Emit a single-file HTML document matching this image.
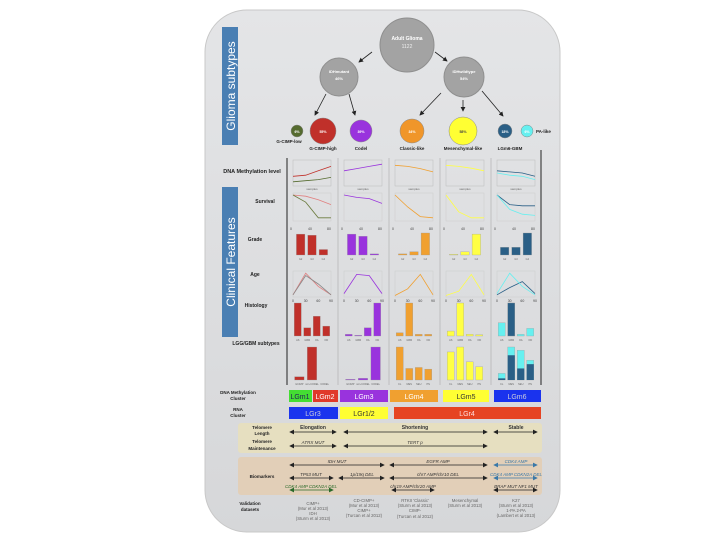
<!DOCTYPE html>
<html><head><meta charset="utf-8"><style>
html,body{margin:0;padding:0;background:#fff;}
svg{display:block;font-family:"Liberation Sans",sans-serif;}
</style></head><body>
<svg id="fig" width="720" height="540" viewBox="0 0 720 540">
<defs>
<linearGradient id="pg" x1="0" y1="0" x2="0" y2="1"><stop offset="0" stop-color="#e4e5e7"/><stop offset="1" stop-color="#d6d7d9"/></linearGradient>
<marker id="ah" markerWidth="6" markerHeight="6" refX="5" refY="3" orient="auto"><path d="M0,0 L6,3 L0,6 z" fill="#222"/></marker>
<marker id="ahs" markerWidth="6" markerHeight="6" refX="5" refY="3" orient="auto-start-reverse"><path d="M0,0 L6,3 L0,6 z" fill="#222"/></marker>
<marker id="ahb" markerWidth="6" markerHeight="6" refX="5" refY="3" orient="auto-start-reverse"><path d="M0,0 L6,3 L0,6 z" fill="#3a78a8"/></marker>
<marker id="ahg" markerWidth="6" markerHeight="6" refX="5" refY="3" orient="auto-start-reverse"><path d="M0,0 L6,3 L0,6 z" fill="#2a6a2a"/></marker>
</defs>
<rect x="205" y="10" width="355" height="522" rx="42" fill="url(#pg)" stroke="#c8c8c8"/>

<rect x="222" y="27" width="16" height="118" fill="#4a7fb3"/>
<text x="0" y="0" transform="translate(235,86) rotate(-90)" text-anchor="middle" font-size="12" fill="#fff">Glioma subtypes</text>
<rect x="222" y="187" width="16" height="150" fill="#4a7fb3"/>
<text transform="translate(235,262) rotate(-90)" text-anchor="middle" font-size="12" fill="#fff">Clinical  Features</text>

<rect x="238" y="423" width="304" height="30" rx="3" fill="#e6dfc0"/>
<rect x="238" y="457" width="304" height="38" rx="3" fill="#e2cfb8"/>

<g id="tree">
<circle cx="407" cy="45" r="27" fill="#a3a3a3" stroke="#8f8f8f"/>
<text x="407" y="40" text-anchor="middle" font-size="5" font-weight="bold" fill="#fff">Adult Glioma</text>
<text x="407" y="48" text-anchor="middle" font-size="5" fill="#eee">1122</text>
<circle cx="339" cy="77" r="19" fill="#a3a3a3" stroke="#8f8f8f"/>
<text x="339" y="73" text-anchor="middle" font-size="4" font-weight="bold" fill="#fff">IDHmutant</text>
<text x="339" y="80" text-anchor="middle" font-size="4" font-weight="bold" fill="#fff">46%</text>
<circle cx="464" cy="77" r="20" fill="#a3a3a3" stroke="#8f8f8f"/>
<text x="464" y="73" text-anchor="middle" font-size="4" font-weight="bold" fill="#fff">IDHwildtype</text>
<text x="464" y="80" text-anchor="middle" font-size="4" font-weight="bold" fill="#fff">54%</text>
<g stroke="#222" stroke-width="0.8" marker-end="url(#ah)">
<line x1="372" y1="52" x2="359" y2="62"/><line x1="435" y1="52" x2="447" y2="61"/>
<line x1="326" y1="94" x2="315" y2="115"/><line x1="349" y1="94" x2="355" y2="115"/>
<line x1="441" y1="93" x2="420" y2="115"/><line x1="463" y1="100" x2="463" y2="111"/><line x1="482" y1="91" x2="503" y2="116"/>
</g>
</g>
<g id="leaves"></g>

<g id="rows" font-weight="bold" fill="#222" text-anchor="middle">
<text x="252" y="173" font-size="5.5">DNA Methylation level</text>
<text x="265" y="203" font-size="5">Survival</text>
<text x="255" y="241" font-size="5">Grade</text>
<text x="255" y="276" font-size="5">Age</text>
<text x="256" y="307" font-size="5">Histology</text>
<text x="256" y="345" font-size="5">LGG/GBM subtypes</text>
<text x="238" y="394" font-size="4.5">DNA  Methylation</text><text x="238" y="400" font-size="4.5">Cluster</text>
<text x="238" y="411" font-size="4.5">RNA</text><text x="238" y="417" font-size="4.5">Cluster</text>
<text x="262" y="429" font-size="4.5">Telomere</text><text x="262" y="435" font-size="4.5">Length</text>
<text x="262" y="443" font-size="4.5">Telomere</text><text x="262" y="450" font-size="4.5">Maintenance</text>
<text x="262" y="478" font-size="4.5">Biomarkers</text>
<text x="250" y="505" font-size="4.5">Validation</text><text x="250" y="511" font-size="4.5">datasets</text>
</g>

<g id="cols"></g>

<g font-size="7" text-anchor="middle">
<rect x="289" y="390" width="23" height="12" fill="#44dd33"/><text x="300" y="399" fill="#225">LGm1</text>
<rect x="313" y="390" width="25" height="12" fill="#e03a2a"/><text x="325" y="399" fill="#fff">LGm2</text>
<rect x="340" y="390" width="48" height="12" fill="#9933dd"/><text x="364" y="399" fill="#fff">LGm3</text>
<rect x="390" y="390" width="48" height="12" fill="#f0a030"/><text x="414" y="399" fill="#fff">LGm4</text>
<rect x="443" y="390" width="46" height="12" fill="#ffff33"/><text x="466" y="399" fill="#333">LGm5</text>
<rect x="494" y="390" width="47" height="12" fill="#1a33ee"/><text x="517" y="399" fill="#ccd">LGm6</text>
<rect x="289" y="407" width="49" height="12" fill="#1a33ee"/><text x="313" y="416" fill="#ccd">LGr3</text>
<rect x="340" y="407" width="48" height="12" fill="#ffff33"/><text x="364" y="416" fill="#333">LGr1/2</text>
<rect x="394" y="407" width="147" height="12" fill="#e64422"/><text x="467" y="416" fill="#fdd">LGr4</text>
</g>

<g stroke="#222" stroke-width="0.8" marker-start="url(#ahs)" marker-end="url(#ahs)">
<line x1="290" y1="432" x2="336" y2="432"/><line x1="344" y1="432" x2="487" y2="432"/><line x1="494" y1="432" x2="537" y2="432"/>
<line x1="290" y1="446" x2="336" y2="446"/><line x1="344" y1="446" x2="487" y2="446"/>
<line x1="290" y1="465" x2="384" y2="465"/><line x1="390" y1="465" x2="487" y2="465"/>
<line x1="290" y1="478" x2="333" y2="478"/><line x1="339" y1="478" x2="384" y2="478"/><line x1="390" y1="478" x2="487" y2="478"/>
<line x1="392" y1="490" x2="434" y2="490"/><line x1="494" y1="490" x2="537" y2="490"/>
<line x1="494" y1="465" x2="537" y2="465" stroke="#3a78a8" marker-start="url(#ahb)" marker-end="url(#ahb)"/>
<line x1="494" y1="478" x2="537" y2="478" stroke="#3a78a8" marker-start="url(#ahb)" marker-end="url(#ahb)"/>
<line x1="290" y1="490" x2="333" y2="490" stroke="#2a6a2a" marker-start="url(#ahg)" marker-end="url(#ahg)"/>
</g>
<g font-size="4.5" text-anchor="middle" fill="#333">
<text x="313" y="429" font-weight="bold" font-size="5">Elongation</text>
<text x="415" y="429" font-weight="bold" font-size="5">Shortening</text>
<text x="516" y="429" font-weight="bold" font-size="5">Stable</text>
<text x="313" y="444" font-style="italic">ATRX MUT</text><text x="415" y="444" font-style="italic">TERT p</text>
<text x="337" y="463" font-style="italic">IDH MUT</text><text x="438" y="463" font-style="italic">EGFR AMP</text>
<text x="516" y="463" font-style="italic" fill="#3a78a8">CDK4 AMP</text>
<text x="311" y="476" font-style="italic">TP53 MUT</text><text x="362" y="476" font-style="italic">1p/19q DEL</text>
<text x="438" y="476" font-style="italic">chr7 AMP/chr10 DEL</text>
<text x="516" y="476" font-style="italic" fill="#3a78a8">CDK4 AMP CDKN2A DEL</text>
<text x="311" y="488" font-style="italic" fill="#2a6a2a">CDK4 AMP CDKN2A DEL</text>
<text x="413" y="488" font-style="italic">chr19 AMP/chr20 AMP</text>
<text x="516" y="488" font-style="italic">BRAF MUT NF1 MUT</text>
</g>
<g font-size="4.3" text-anchor="middle" fill="#666">
<text x="313" y="505">CIMP+</text><text x="313" y="510">(Mur et al 2013)</text><text x="313" y="515">IDH</text><text x="313" y="520">(Sturm et al 2013)</text>
<text x="364" y="502">CD-CIMP+</text><text x="364" y="507">(Mur et al 2013)</text><text x="364" y="512">CIMP+</text><text x="364" y="517">(Turcan et al 2012)</text>
<text x="415" y="502">RTKII 'Classic'</text><text x="415" y="507">(Sturm et al 2013)</text><text x="415" y="512">CIMP-</text><text x="415" y="518">(Turcan et al 2012)</text>
<text x="465" y="502">Mesenchymal</text><text x="465" y="507">(Sturm et al 2013)</text>
<text x="516" y="502">K27</text><text x="516" y="507">(Sturm et al 2013)</text><text x="516" y="512">1-PA 2-PA</text><text x="516" y="517">(Lambert et al 2013)</text>
</g>
</svg>
<script>
var NS="http://www.w3.org/2000/svg";
function mk(tag,attrs,parent){var e=document.createElementNS(NS,tag);for(var k in attrs)e.setAttribute(k,attrs[k]);parent.appendChild(e);return e;}
var leafNames=["G-CIMP-low","G-CIMP-high","Codel","Classic-like","Mesenchymal-like","LGm6-GBM","PA-like"];
var leafPct=["6%","55%","39%","34%","58%","18%","6%"];
var leafColors=["#556b2f","#c0302a","#9933dd","#f0962a","#ffff33","#2a5f86","#66f0f0"];
var leafX=[297,323,361,412,463,505,527];
var leafR=[6,13,11,12,14,7,6];
var leaves=document.getElementById('leaves');
for(var i=0;i<leafNames.length;i++){
 var c=mk('circle',{cx:leafX[i],cy:131,r:leafR[i],fill:leafColors[i],stroke:'#888','stroke-width':0.5},leaves);
 
 
 var t=mk('text',{x:leafX[i],y:133,'text-anchor':'middle','font-size':3.5,'font-weight':'bold',fill:i==4?'#444':'#fff'},leaves);t.textContent=leafPct[i];
 var lx=leafX[i],ly=150,anc='middle';
 if(i==0){lx=289;ly=143;} if(i==6){lx=536;ly=133;anc='start';} if(i==5){lx=510;}
 var l=mk('text',{x:lx,y:ly,'text-anchor':anc,'font-size':4.5,'font-weight':'bold',fill:'#222'},leaves);l.textContent=leafNames[i];
 
 
}
var colX=[289,340,391,442,493];
var colW=48;
var colMain=["#c0302a","#9933dd","#f0a030","#ffff44","#2a5f86"];
var colAlt=["#556b2f","#b070e0","#f0a030","#ffff44","#66f0f0"];
var gradeVals=[[0.95,0.9,0.25],[0.95,0.85,0.05],[0.05,0.15,1],[0.03,0.15,0.95],[0.35,0.35,1]];
var histVals=[[1,0.25,0.6,0.3],[0.05,0.02,0.25,1],[0.1,1,0.05,0.05],[0.15,1,0.05,0.04],[0.4,1,0.05,0.23]];
var subVals=[[0.1,1,0],[0.02,0.05,1],[1,0.35,0.38,0.33],[0.85,1,0.55,0.4],[0.2,1,0.9,0.6]];
var subDark=[[0,0,0],[0,0,0],[0,0,0,0],[0,0,0,0],[0.05,0.75,0.35,0.48]];
var methA=[[0.35,0.4,0.6,0.8],[0.6,0.7,0.8,0.9],[0.85,0.8,0.7,0.55],[0.85,0.8,0.72,0.6],[0.6,0.55,0.5,0.35]];
var methB=[[0.1,0.15,0.2,0.3],null,null,null,[0.5,0.4,0.35,0.2]];
var survA=[[1,0.95,0.8,0.6],[1,0.9,0.85,0.65],[1,0.5,0.1,0.05],[1,0.3,0.05,0.05],[1,0.6,0.55,0.55]];
var survB=[[1,0.7,0.05,0.05],null,null,null,[1,0.4,0.2,0.15]];
var ageA=[[0.05,0.95,0.4,0.05],[0.1,0.9,0.85,0.1],[0.02,0.3,0.9,0.05],[0.02,0.2,0.9,0.05],[0.05,0.35,0.6,0.1]];
var ageB=[[0.05,0.85,0.5,0.05],null,null,null,[0.1,0.95,0.4,0.05]];
var histLbl=["AS","GBM","OA","OD"];
var subLbl3=["GCIMP","non-CODEL","CODEL"];
var subLbl4=["CL","MES","NEU","PN"];
var cols=document.getElementById('cols');
function yv(base,h,v){return base-h*v;}
function line(g,x0,w,base,h,vals,color){
 var d='';for(var i=0;i<vals.length;i++){var x=x0+w*i/(vals.length-1);d+=(i?'L':'M')+x.toFixed(1)+','+yv(base,h,vals[i]).toFixed(1);}
 var p=mk('path',{d:d,fill:'none',stroke:color,'stroke-width':0.8},g);
 
 
}
function bars(g,x0,w,base,h,vals,dark,c1,c2,lbls){
 var n=vals.length,bw=w/n*0.75;
 for(var i=0;i<n;i++){var bx=x0+w*i/n+(w/n-bw)/2;
  var r=mk('rect',{x:bx,y:yv(base,h,vals[i]),width:bw,height:h*vals[i],fill:c1,stroke:'#999','stroke-width':0.3},g);
  
  
  if(dark&&dark[i]){mk('rect',{x:bx,y:yv(base,h,dark[i]),width:bw,height:h*dark[i],fill:c2},g);}
  if(lbls){var t=mk('text',{x:bx+bw/2,y:base+5,'text-anchor':'middle','font-size':2.5,fill:'#666'},g);t.textContent=lbls[i];}
 }
}
for(var c=0;c<5;c++){
 var g=mk('g',{},cols);
 
 
 var x0=colX[c]+4,w=colW-10;
 mk('rect',{x:x0,y:160,width:w,height:26,fill:'none',stroke:'#bbb','stroke-width':0.5},g);
 line(g,x0,w,184,22,methA[c],colMain[c]);
 if(methB[c])line(g,x0,w,184,22,methB[c],colAlt[c]);
 var t=mk('text',{x:x0+w/2,y:190,'text-anchor':'middle','font-size':3,fill:'#666'},g);t.textContent='samples';
 mk('rect',{x:x0,y:193,width:w,height:28,fill:'none',stroke:'#ccc','stroke-width':0.5},g);
 line(g,x0,w,219,24,survA[c],c==0?'#e08080':colMain[c]);
 if(survB[c])line(g,x0,w,219,24,survB[c],c==0?'#6b7b3f':colAlt[c]);
 ['0','40','80'].forEach(function(s,k){var tt=mk('text',{x:x0-2+k*w/2,y:230,'text-anchor':'middle','font-size':3.5,fill:'#444'},g);tt.textContent=s;});
 bars(g,x0+2,w-4,255,22,gradeVals[c],c==0?[0,0,0]:null,colMain[c],colAlt[c],['G2','G3','G4']);
 mk('rect',{x:x0,y:271,width:w,height:26,fill:'none',stroke:'#ccc','stroke-width':0.5},g);
 line(g,x0,w,296,24,ageA[c],c==0?'#e08080':colMain[c]);
 if(ageB[c])line(g,x0,w,296,24,ageB[c],c==0?'#888':colAlt[c]);
 ['0','30','60','90'].forEach(function(s,k){var tt=mk('text',{x:x0+k*w/3,y:302,'text-anchor':'middle','font-size':3.5,fill:'#444'},g);tt.textContent=s;});
 bars(g,x0,w,336,33,histVals[c],null,c==4?'#66f0f0':colMain[c],colAlt[c],histLbl);
 if(c==4){var hv=[0,1,0,0];bars(g,x0,w,336,33,hv.map(function(v,i){return v*histVals[c][i];}),null,'#2a5f86','#2a5f86',null);}
 bars(g,x0,w,380,33,subVals[c],subDark[c],c==4?'#66f0f0':colMain[c],c==4?'#2a5f86':colAlt[c],subVals[c].length==3?subLbl3:subLbl4);
 mk('line',{x1:colX[c]-2,y1:158,x2:colX[c]-2,y2:385,stroke:c==0?'#222':'#aaa','stroke-width':c==0?1:0.6},g);
}
mk('line',{x1:541,y1:150,x2:541,y2:385,stroke:'#222','stroke-width':1},cols);
</script>
</body></html>
